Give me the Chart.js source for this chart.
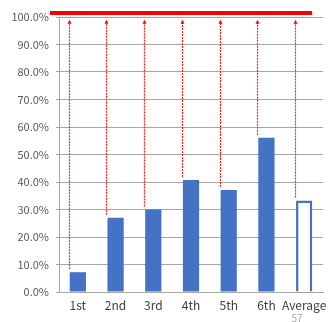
<!DOCTYPE html>
<html>
<head>
<meta charset="utf-8">
<script src="https://cdn.jsdelivr.net/npm/chart.js@4"></script>
<style>
  body { margin: 0; background: #fff; }
</style>
</head>
<body>
<canvas id="myChart" width="331" height="322"></canvas>
<script>
var categories = ['1st', '2nd', '3rd', '4th', '5th', '6th', 'Average'];
var rates = [7.2, 27.0, 30.0, 40.7, 37.1, 56.1, 33.3];
var yTicks = [0, 10, 20, 30, 40, 50, 60, 70, 80, 90, 100];
var targetLine = 101.5;
var arrowTop = 99;
var pageNumber = '57';

var blue = '#4472C4';
var font = '"Noto Sans CJK JP", "Noto Sans", sans-serif';

var annotations = {
    id: 'annotations',
    afterDatasetsDraw: function (chart) {
        var c = chart.ctx;
        var x = chart.scales.x, y = chart.scales.y;
        var meta = chart.getDatasetMeta(0);
        c.save();
        // red arrows from each bar up to the target
        c.strokeStyle = '#FF2020';
        c.fillStyle = '#FF0000';
        c.lineWidth = 1.2;
        meta.data.forEach(function (bar, i) {
            var px = Math.round(bar.x - bar.width / 2) - 0.5;
            var yBottom = y.getPixelForValue(rates[i]) - 3;
            var yTop = y.getPixelForValue(arrowTop);
            c.setLineDash([2, 1]);
            c.beginPath();
            c.moveTo(px, yBottom);
            c.lineTo(px, yTop + 3);
            c.stroke();
            c.setLineDash([]);
            c.beginPath();
            c.moveTo(px, yTop);
            c.lineTo(px - 2, yTop + 4);
            c.lineTo(px + 2, yTop + 4);
            c.closePath();
            c.fill();
        });
        // target line
        var ty = y.getPixelForValue(targetLine);
        c.strokeStyle = '#FF0000';
        c.lineWidth = 4;
        c.beginPath();
        c.moveTo(chart.chartArea.left - 9, ty);
        c.lineTo(x.getPixelForValue(categories.length - 1) + 8, ty);
        c.stroke();
        // page number
        c.fillStyle = '#A6A6A6';
        c.font = '10px ' + font;
        c.textAlign = 'center';
        c.textBaseline = 'middle';
        c.fillText(pageNumber, 297, 318);
        c.restore();
    }
};

var ctx = document.getElementById('myChart').getContext('2d');
var myChart = new Chart(ctx, {
    type: 'bar',
    data: {
        labels: categories,
        datasets: [{
            data: rates,
            backgroundColor: rates.map(function (v, i) { return i === rates.length - 1 ? '#FFFFFF' : blue; }),
            borderColor: blue,
            borderWidth: rates.map(function (v, i) { return i === rates.length - 1 ? 2.5 : 0; }),
            categoryPercentage: 1,
            barPercentage: 0.43
        }]
    },
    options: {
        responsive: false,
        animation: false,
        layout: { padding: { top: 17, right: 8, left: 0, bottom: 0 } },
        plugins: {
            legend: { display: false },
            tooltip: { enabled: false }
        },
        scales: {
            x: {
                afterFit: function (s) { s.height = 30; },
                grid: { display: false, drawTicks: true, tickLength: 3 },
                border: { color: '#A6A6A6', width: 1 },
                ticks: { color: '#404040', font: { family: font, size: 12 }, padding: 3, maxRotation: 0, autoSkip: false }
            },
            y: {
                min: 0,
                max: 100,
                afterFit: function (s) { s.width = 59; },
                afterBuildTicks: function (s) { s.ticks = yTicks.map(function (v) { return { value: v }; }); },
                grid: { color: '#A6A6A6', tickLength: 3 },
                border: { color: '#A6A6A6', width: 1 },
                ticks: {
                    color: '#595959',
                    font: { family: font, size: 11 },
                    padding: 7,
                    callback: function (v) { return v.toFixed(1) + '%'; }
                }
            }
        }
    },
    plugins: [annotations]
});
</script>
</body>
</html>
